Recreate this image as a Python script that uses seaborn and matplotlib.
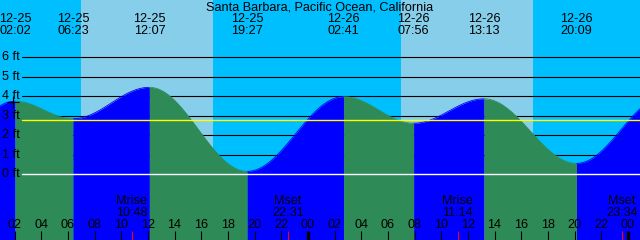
import numpy as np
import pandas as pd
import matplotlib
matplotlib.use("Agg")
import matplotlib.pyplot as plt
import seaborn as sns

# Tide extremes (Santa Barbara)
tide_dates = ["12-25", "12-25", "12-25", "12-25", "12-26", "12-26", "12-26", "12-26"]
tide_clock = ["02:02", "06:23", "12:07", "19:27", "02:41", "07:56", "13:13", "20:09"]
tide_ft = [3.75, 2.85, 4.46, 0.15, 3.98, 2.62, 3.87, 0.56]

# extremes just outside the visible window (no labels)
edge_hours = [-4.8, 50.8]
edge_ft = [0.1, 4.0]

# sun and moon
sun_dates = ["12-25", "12-25", "12-26", "12-26"]
sun_clock = ["06:59", "16:54", "06:59", "16:53"]
moon_dates = ["12-25", "12-25", "12-26", "12-26"]
moon_clock = ["10:48", "22:31", "11:14", "23:34"]
moon_kind = ["Mrise", "Mset", "Mrise", "Mset"]

mean_level = 2.78
ft_ticks = [0, 1, 2, 3, 4, 5, 6]
hour_ticks = list(range(2, 49, 2))

title = "Santa Barbara, Pacific Ocean, California"


def to_hours(date, clock):
    day = int(date.split("-")[1]) - 25
    hh, mm = clock.split(":")
    return 24 * day + int(hh) + int(mm) / 60


tide_hours = [to_hours(d, c) for d, c in zip(tide_dates, tide_clock)]
sun_hours = [to_hours(d, c) for d, c in zip(sun_dates, sun_clock)]
moon_hours = [to_hours(d, c) for d, c in zip(moon_dates, moon_clock)]

# tide curve: cosine between successive extremes
all_t = [edge_hours[0]] + tide_hours + [edge_hours[1]]
all_f = [edge_ft[0]] + tide_ft + [edge_ft[1]]
rows = []
for i in range(len(all_t) - 1):
    t0, t1, f0, f1 = all_t[i], all_t[i + 1], all_f[i], all_f[i + 1]
    t = np.linspace(t0, t1, 80)
    f = f0 + (f1 - f0) * (1 - np.cos(np.pi * (t - t0) / (t1 - t0))) / 2
    phase = "flood" if f1 > f0 else "ebb"
    for a, b in zip(t, f):
        rows.append({"hour": a, "ft": b, "phase": phase, "seg": i})
tide = pd.DataFrame(rows)

colors = {"flood": "#0000FF", "ebb": "#2E8B57"}

sns.set_style("white")
plt.rcParams["font.family"] = ["Liberation Sans", "DejaVu Sans"]
plt.rcParams["text.color"] = "black"

fig = plt.figure(figsize=(6.4, 2.4), dpi=100)
ax = fig.add_axes([0, 0, 1, 1])
x0 = 2 - 14.5 / 13.333
ax.set_xlim(x0, x0 + 48)
ax.set_ylim(-3.37, 8.94)
ax.set_facecolor("#00BFFF")
for s in ax.spines.values():
    s.set_visible(False)
ax.set_xticks([])
ax.set_yticks([])

# daylight
for a, b in zip(sun_hours[0::2], sun_hours[1::2]):
    ax.axvspan(a, b, color="#87CEEB", lw=0, zorder=0)

# foot lines behind the water
for ft in ft_ticks[1:]:
    ax.axhline(ft, xmin=22 / 640, color="black", lw=0.8, zorder=1)

# water
for seg, g in tide.groupby("seg"):
    ax.fill_between(g["hour"], g["ft"], -4, color=colors[g["phase"].iloc[0]], lw=0, zorder=2)
sns.lineplot(data=tide, x="hour", y="ft", hue="phase", units="seg", estimator=None,
             palette=colors, legend=False, lw=0.6, ax=ax, zorder=2.5)
ax.set_xlabel("")
ax.set_ylabel("")

ax.axhline(mean_level, xmin=22 / 640, color="yellow", lw=1, zorder=3)
ax.axhline(0, xmin=22 / 640, color="white", lw=1, zorder=3)
ax.plot(tide_hours[0] - 0.13, tide_ft[0] - 0.05, "+", color="black", ms=8, mew=0.8, zorder=4)

fs = 9.1
trx = ax.get_xaxis_transform()

# y labels
for ft in ft_ticks:
    ax.text(2 / 640, ft, f"{ft} ft", transform=ax.get_yaxis_transform(),
            ha="left", va="center", fontsize=fs, color="black", zorder=5)

# title and extremes
ax.text(0.5, 1 - 7.5 / 240, title, transform=ax.transAxes, ha="center", va="center",
        fontsize=fs, color="black", zorder=5)
for h, d, c in zip(tide_hours, tide_dates, tide_clock):
    ax.text(h, 1 - 19.5 / 240, d, transform=trx, ha="center", va="center", fontsize=fs,
            color="black", zorder=5)
    ax.text(h, 1 - 31.5 / 240, c, transform=trx, ha="center", va="center", fontsize=fs,
            color="black", zorder=5)

# hour labels and ticks
for h in hour_ticks:
    ax.text(h, 15 / 240, f"{h % 24:02d}", transform=trx, ha="center", va="center",
            fontsize=fs, color="black", zorder=5)
    width = 2.4 if h % 24 == 0 else 0.8
    ax.plot([h, h], [0, 9 / 240], transform=trx, color="black", lw=width, zorder=5,
            solid_capstyle="butt")

# moon
for h, k, c in zip(moon_hours, moon_kind, moon_clock):
    ax.plot([h, h], [0, 9 / 240], transform=trx, color="red", lw=0.8, zorder=5,
            solid_capstyle="butt")
    ax.text(h, 38.5 / 240, k, transform=trx, ha="center", va="center", fontsize=fs,
            color="black", zorder=5)
    ax.text(h, 26.8 / 240, c, transform=trx, ha="center", va="center", fontsize=fs,
            color="black", zorder=5)

fig.savefig("out.png", dpi=100)
